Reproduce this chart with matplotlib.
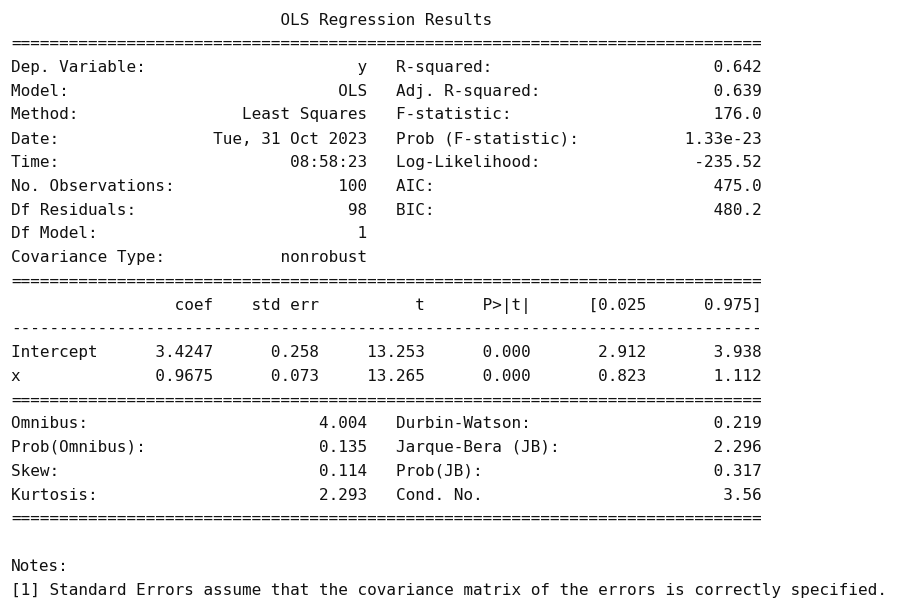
import matplotlib
matplotlib.use("Agg")
from matplotlib import pyplot as plt

TITLE = "OLS Regression Results"

# top block: left side and right side of the summary
top_left_labels = ["Dep. Variable:", "Model:", "Method:", "Date:", "Time:",
                   "No. Observations:", "Df Residuals:", "Df Model:", "Covariance Type:"]
top_left_values = ["y", "OLS", "Least Squares", "Tue, 31 Oct 2023", "08:58:23",
                   "100", "98", "1", "nonrobust"]
top_right_labels = ["R-squared:", "Adj. R-squared:", "F-statistic:", "Prob (F-statistic):",
                    "Log-Likelihood:", "AIC:", "BIC:", "", ""]
top_right_values = ["0.642", "0.639", "176.0", "1.33e-23", "-235.52", "475.0", "480.2", "", ""]

# coefficient table
coef_header = ["coef", "std err", "t", "P>|t|", "[0.025", "0.975]"]
coef_names = ["Intercept", "x"]
coef_values = [
    ["3.4247", "0.258", "13.253", "0.000", "2.912", "3.938"],
    ["0.9675", "0.073", "13.265", "0.000", "0.823", "1.112"],
]

# diagnostics block
diag_left_labels = ["Omnibus:", "Prob(Omnibus):", "Skew:", "Kurtosis:"]
diag_left_values = ["4.004", "0.135", "0.114", "2.293"]
diag_right_labels = ["Durbin-Watson:", "Jarque-Bera (JB):", "Prob(JB):", "Cond. No."]
diag_right_values = ["0.219", "2.296", "0.317", "3.56"]

NOTES = ["Notes:",
         "[1] Standard Errors assume that the covariance matrix of the errors is correctly specified."]

WIDTH = 78


def pair_line(l_lab, l_val, r_lab, r_val):
    left = l_lab + l_val.rjust(37 - len(l_lab))
    right = r_lab + r_val.rjust(38 - len(r_lab))
    return left + "   " + right


col_widths = [12, 11, 11, 11, 12, 12]

lines = [TITLE.center(WIDTH).rstrip(), "=" * WIDTH]
for i in range(len(top_left_labels)):
    lines.append(pair_line(top_left_labels[i], top_left_values[i],
                           top_right_labels[i], top_right_values[i]).rstrip())
lines.append("=" * WIDTH)
lines.append(" " * 9 + "".join(h.rjust(w) for h, w in zip(coef_header, col_widths)))
lines.append("-" * WIDTH)
for name, vals in zip(coef_names, coef_values):
    lines.append(name.ljust(9) + "".join(v.rjust(w) for v, w in zip(vals, col_widths)))
lines.append("=" * WIDTH)
for i in range(len(diag_left_labels)):
    lines.append(pair_line(diag_left_labels[i], diag_left_values[i],
                           diag_right_labels[i], diag_right_values[i]))
lines.append("=" * WIDTH)
lines.append("")
lines.extend(NOTES)

W, H = 897, 610
fig = plt.figure(figsize=(W / 100, H / 100), dpi=100)
fig.patch.set_facecolor("white")

x0 = 11
first_base = 24.5
step = 23.75
for k, line in enumerate(lines):
    if not line:
        continue
    y = first_base + step * k
    fig.text(x0 / W, 1 - y / H, line, family="DejaVu Sans Mono", fontsize=11.5,
             color="#111111", ha="left", va="baseline")

fig.savefig("out.png", dpi=100, facecolor="white")
